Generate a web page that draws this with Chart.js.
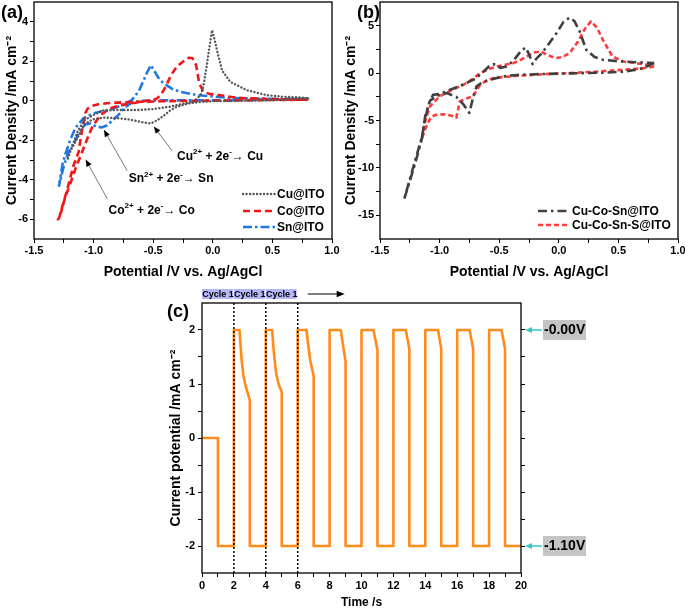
<!DOCTYPE html>
<html>
<head>
<meta charset="utf-8">
<script src="https://cdn.jsdelivr.net/npm/chart.js@4.4.0/dist/chart.umd.min.js"></script>
<style>
html, body { margin: 0; padding: 0; background: #fff; overflow: hidden; width: 685px; height: 608px; }
canvas { position: absolute; }
#chartA { left: 0; top: 0; }
#chartB { left: 340px; top: 0; }
#chartC { left: 150px; top: 280px; }
</style>
</head>
<body>
<canvas id="chartA" width="350" height="284"></canvas>
<canvas id="chartB" width="355" height="284"></canvas>
<canvas id="chartC" width="535" height="330"></canvas>
<script>
// ---- panel (a): single-metal CVs (forward scan to -1.3 V, then back) ----
var cuPot = [0.8, 0.6, 0.4, 0.2, 0.0, -0.1, -0.2, -0.3, -0.36, -0.42, -0.47, -0.52, -0.58, -0.7, -0.8, -0.92, -1.01, -1.08, -1.14, -1.2, -1.22,
             -1.18, -1.13, -1.08, -1.01, -0.93, -0.8, -0.63, -0.5, -0.36, -0.25, -0.16, -0.1, -0.075, -0.05, -0.033, -0.006, 0.015, 0.036, 0.078, 0.148, 0.288, 0.455, 0.6, 0.735, 0.8];
var cuCur = [0.12, 0.05, 0.02, 0.0, -0.02, -0.06, -0.13, -0.3, -0.5, -0.8, -1.0, -1.15, -1.1, -0.95, -0.88, -0.85, -0.95, -1.2, -1.95, -2.6, -3.0,
             -2.3, -1.5, -1.0, -0.75, -0.5, -0.47, -0.47, -0.42, -0.3, -0.15, -0.05, 0.3, 0.87, 1.8, 2.53, 3.57, 3.1, 2.53, 1.53, 0.95, 0.53, 0.28, 0.2, 0.17, 0.12];

var coPot = [0.8, 0.5, 0.2, -0.1, -0.4, -0.6, -0.77, -0.89, -0.96, -1.01, -1.05, -1.07, -1.08, -1.1, -1.126, -1.17, -1.22, -1.26, -1.29, -1.3,
             -1.27, -1.24, -1.195, -1.15, -1.11, -1.056, -1.01, -0.94, -0.86, -0.77, -0.65, -0.55, -0.5, -0.467, -0.43, -0.397, -0.35, -0.3, -0.24, -0.2,
             -0.17, -0.14, -0.118, -0.1, -0.076, -0.03, 0.064, 0.2, 0.4, 0.6, 0.8];
var coCur = [0.05, 0.04, 0.02, 0.0, -0.02, -0.05, -0.08, -0.13, -0.18, -0.25, -0.4, -0.63, -1.0, -1.6, -2.6, -3.3, -4.47, -5.3, -5.95, -6.0,
             -5.6, -4.9, -4.2, -3.4, -2.8, -1.97, -1.3, -0.72, -0.38, -0.22, -0.1, 0.0, 0.05, 0.12, 0.35, 0.7, 1.3, 1.75, 2.03, 2.18,
             2.15, 1.8, 1.03, 0.7, 0.45, 0.35, 0.28, 0.15, 0.1, 0.07, 0.05];

var snPot = [0.8, 0.5, 0.2, -0.1, -0.4, -0.6, -0.68, -0.74, -0.79, -0.84, -0.89, -0.93, -0.98, -1.03, -1.07, -1.12, -1.17, -1.21, -1.25, -1.29,
             -1.26, -1.237, -1.195, -1.153, -1.084, -1.0, -0.9, -0.83, -0.75, -0.68, -0.62, -0.58, -0.55, -0.52, -0.49, -0.45, -0.41, -0.34, -0.27, -0.13, 0.15, 0.5, 0.8];
var snCur = [0.08, 0.05, 0.03, 0.02, 0.02, 0.0, -0.1, -0.35, -0.7, -1.0, -1.25, -1.35, -1.3, -1.15, -1.2, -1.6, -2.2, -2.6, -3.3, -4.3,
             -3.2, -2.7, -1.97, -1.38, -0.88, -0.63, -0.5, -0.38, -0.2, 0.03, 0.5, 1.03, 1.45, 1.8, 1.5, 1.1, 0.87, 0.6, 0.45, 0.28, 0.14, 0.1, 0.1];

// ---- panel (b): alloy CVs ----
var ccsPot = [0.8, 0.7, 0.566, 0.4, 0.2, 0.0, -0.2, -0.35, -0.44, -0.5, -0.58, -0.64, -0.69, -0.72, -0.75, -0.8, -0.86, -0.94, -1.02, -1.08, -1.12, -1.15, -1.2, -1.25, -1.3,
              -1.25, -1.2, -1.15, -1.12, -1.09, -1.055, -1.0, -0.9, -0.8, -0.7, -0.62, -0.57, -0.53, -0.49, -0.44, -0.38, -0.32, -0.28, -0.25, -0.22,
              -0.19, -0.15, -0.1, -0.02, 0.04, 0.09, 0.13, 0.175, 0.23, 0.3, 0.37, 0.5, 0.65, 0.8];
var ccsCur = [1.05, 0.5, 0.17, 0.05, 0.0, -0.05, -0.12, -0.2, -0.3, -0.45, -0.7, -0.95, -1.4, -2.6, -4.2, -3.3, -2.5, -2.1, -2.4, -2.9, -4.5, -7.0, -9.3, -11.4, -13.4,
              -11.2, -9.0, -6.8, -4.8, -3.2, -2.3, -2.2, -1.7, -1.2, -0.6, 0.3, 0.9, 0.95, 0.55, 0.7, 1.3, 2.3, 2.7, 2.0, 0.95,
              1.5, 2.0, 2.8, 4.2, 5.4, 5.85, 5.5, 4.4, 2.46, 1.7, 1.4, 1.25, 1.15, 1.05];

var ccssPot = [0.8, 0.7, 0.54, 0.3, 0.1, -0.1, -0.3, -0.45, -0.55, -0.62, -0.66, -0.72, -0.78, -0.83, -0.86, -0.9, -0.96, -1.03, -1.07, -1.1, -1.13, -1.15,
               -1.12, -1.08, -1.0, -0.9, -0.8, -0.72, -0.66, -0.58, -0.52, -0.44, -0.38, -0.32, -0.27, -0.2, -0.15,
               -0.1, -0.03, 0.03, 0.09, 0.16, 0.22, 0.27, 0.32, 0.37, 0.45, 0.54, 0.7, 0.8];
var ccssCur = [0.7, 0.5, 0.35, 0.15, 0.0, -0.1, -0.25, -0.4, -0.53, -0.9, -1.23, -2.46, -2.7, -3.0, -4.7, -4.5, -4.35, -4.4, -4.6, -5.3, -6.2, -7.0,
               -5.0, -3.5, -2.46, -1.8, -1.23, -0.6, 0.0, 0.45, 0.7, 0.9, 1.05, 1.4, 1.76, 2.2, 2.28,
               1.93, 1.58, 1.7, 2.1, 3.3, 4.7, 5.45, 4.8, 3.5, 1.76, 1.23, 0.95, 0.7];

// ---- panel (c): pulse current vs time ----
var timeS = [0, 1, 1, 2,
             2, 2.35, 2.42, 2.5, 2.6, 2.72, 2.85, 3, 3, 4,
             4, 4.4, 4.47, 4.55, 4.65, 4.8, 5, 5, 6,
             6, 6.55, 6.65, 6.78, 6.9, 7, 7, 8,
             8, 8.7, 8.85, 9, 9, 10,
             10, 10.75, 11, 11, 12,
             12, 12.78, 13, 13, 14,
             14, 14.8, 15, 15, 16,
             16, 16.78, 17, 17, 18,
             18, 18.78, 19, 19, 20];
var currentC = [0, 0, -2, -2,
                2, 2, 1.7, 1.4, 1.15, 0.98, 0.85, 0.7, -2, -2,
                2, 2, 1.7, 1.45, 1.2, 1.0, 0.85, -2, -2,
                2, 2, 1.75, 1.45, 1.28, 1.15, -2, -2,
                2, 2, 1.7, 1.42, -2, -2,
                2, 2, 1.63, -2, -2,
                2, 2, 1.65, -2, -2,
                2, 2, 1.65, -2, -2,
                2, 2, 1.65, -2, -2,
                2, 2, 1.65, -2, -2];
var cycleMarks = [2, 4, 6];
var cycleLabels = ['Cycle 1', 'Cycle 1', 'Cycle 1'];
var levelValues = [2, -2];
var levelLabels = ['-0.00V', '-1.10V'];

// ---- ticks ----
var potMajor = [-1.5, -1.0, -0.5, 0.0, 0.5, 1.0];
var potMinor = [-1.25, -0.75, -0.25, 0.25, 0.75];
var curMajorA = [-6, -4, -2, 0, 2, 4];
var curMinorA = [-5, -3, -1, 1, 3];
var curMajorB = [-15, -10, -5, 0, 5];
var curMinorB = [-12.5, -7.5, -2.5, 2.5];
var timeMajor = [0, 2, 4, 6, 8, 10, 12, 14, 16, 18, 20];
var timeMinor = [1, 3, 5, 7, 9, 11, 13, 15, 17, 19];
var curMajorC = [-2, -1, 0, 1, 2];
var curMinorC = [-1.5, -0.5, 0.5, 1.5];

var FONT = '"Liberation Sans", Arial, Helvetica, sans-serif';
Chart.defaults.font.family = FONT;
Chart.defaults.color = '#000';

function pairs(xs, ys) {
    var out = [];
    for (var i = 0; i < xs.length; i++) {
        out.push({x: xs[i], y: ys[i]});
    }
    return out;
}

function series(label, xs, ys, color, dash, width, cap) {
    return {
        label: label,
        data: pairs(xs, ys),
        showLine: true,
        borderColor: color,
        backgroundColor: color,
        borderWidth: width,
        borderDash: dash,
        borderCapStyle: cap,
        borderJoinStyle: 'round',
        pointRadius: 0,
        tension: 0
    };
}

function axis(pos, min, max, major, minor, digits, title, titleSize, tickSize, fit, titlePad, tickPad) {
    var all = major.concat(minor).sort(function (a, b) { return a - b; });
    var vertical = (pos === 'left' || pos === 'right');
    return {
        type: 'linear',
        position: pos,
        min: min,
        max: max,
        afterBuildTicks: function (s) {
            s.ticks = all.map(function (v) { return {value: v}; });
        },
        afterFit: function (s) {
            if (vertical) s.width = fit; else s.height = fit;
            s.paddingTop = 0; s.paddingBottom = 0; s.paddingLeft = 0; s.paddingRight = 0;
        },
        ticks: {
            display: digits !== null,
            autoSkip: false,
            maxRotation: 0,
            padding: tickPad,
            color: '#000',
            font: {size: tickSize, weight: 'bold'},
            callback: function (v) {
                return major.indexOf(v) < 0 ? '' : v.toFixed(digits);
            }
        },
        grid: {display: true, drawOnChartArea: false, drawTicks: true, tickLength: 4, color: '#000', lineWidth: 1},
        border: {display: false},
        title: {
            display: !!title,
            text: title,
            color: '#000',
            font: {size: titleSize, weight: 'bold'},
            padding: titlePad
        }
    };
}

function arrow(ctx, x1, y1, x2, y2, color, width, head) {
    var a = Math.atan2(y2 - y1, x2 - x1);
    ctx.save();
    ctx.strokeStyle = color;
    ctx.lineWidth = width;
    ctx.setLineDash([]);
    ctx.beginPath();
    ctx.moveTo(x1, y1);
    ctx.lineTo(x2 - Math.cos(a) * head * 0.8, y2 - Math.sin(a) * head * 0.8);
    ctx.stroke();
    ctx.fillStyle = '#000';
    ctx.beginPath();
    ctx.moveTo(x2, y2);
    ctx.lineTo(x2 - head * Math.cos(a) + head * 0.4 * Math.sin(a), y2 - head * Math.sin(a) - head * 0.4 * Math.cos(a));
    ctx.lineTo(x2 - head * Math.cos(a) - head * 0.4 * Math.sin(a), y2 - head * Math.sin(a) + head * 0.4 * Math.cos(a));
    ctx.closePath();
    ctx.fill();
    ctx.restore();
}

function richText(ctx, segs, x, y, size) {
    ctx.save();
    ctx.fillStyle = '#000';
    ctx.textBaseline = 'middle';
    ctx.textAlign = 'left';
    segs.forEach(function (s) {
        var sup = s[1];
        ctx.font = 'bold ' + (sup ? Math.round(size * 0.65) : size) + 'px ' + FONT;
        ctx.fillText(s[0], x, sup ? y - size * 0.38 : y);
        x += ctx.measureText(s[0]).width;
    });
    ctx.restore();
}

var frame = {
    id: 'frame',
    afterDatasetsDraw: function (chart) {
        var a = chart.chartArea, ctx = chart.ctx;
        ctx.save();
        ctx.strokeStyle = '#000';
        ctx.lineWidth = 1.3;
        ctx.setLineDash([]);
        ctx.strokeRect(a.left, a.top, a.right - a.left, a.bottom - a.top);
        ctx.restore();
    }
};

function panelTag(text, x, y) {
    return {
        id: 'tag',
        afterDraw: function (chart) {
            var ctx = chart.ctx;
            ctx.save();
            ctx.fillStyle = '#000';
            ctx.font = 'bold 18px ' + FONT;
            ctx.textBaseline = 'middle';
            ctx.fillText(text, x, y);
            ctx.restore();
        }
    };
}

function legendBox(x1, x2, rows) {
    return {
        id: 'legendBox',
        afterDraw: function (chart) {
            var ctx = chart.ctx;
            chart.data.datasets.forEach(function (ds, i) {
                ctx.save();
                ctx.strokeStyle = ds.borderColor;
                ctx.lineWidth = ds.borderWidth;
                ctx.lineCap = ds.borderCapStyle;
                ctx.setLineDash(ds.borderDash);
                ctx.beginPath();
                ctx.moveTo(x1, rows[i]);
                ctx.lineTo(x2, rows[i]);
                ctx.stroke();
                ctx.fillStyle = '#000';
                ctx.font = 'bold 12px ' + FONT;
                ctx.textBaseline = 'middle';
                ctx.fillText(ds.label, x2 + 2, rows[i] + 0.5);
                ctx.restore();
            });
        }
    };
}

var reactionNotes = [
    {text: [['Cu'], ['2+', 1], [' + 2e'], ['-', 1], ['\u2192 Cu']], at: [-0.30, -2.82], from: [-0.34, -2.55], to: [-0.495, -1.3]},
    {text: [['Sn'], ['2+', 1], [' + 2e'], ['-', 1], ['\u2192 Sn']], at: [-0.706, -3.97], from: [-0.718, -3.55], to: [-0.914, -1.47]},
    {text: [['Co'], ['2+', 1], [' + 2e'], ['-', 1], ['\u2192 Co']], at: [-0.874, -5.57], from: [-0.885, -4.97], to: [-1.067, -2.97]}
];

var notesA = {
    id: 'notesA',
    afterDraw: function (chart) {
        var ctx = chart.ctx, xs = chart.scales.x, ys = chart.scales.y;
        reactionNotes.forEach(function (n) {
            arrow(ctx, xs.getPixelForValue(n.from[0]), ys.getPixelForValue(n.from[1]),
                  xs.getPixelForValue(n.to[0]), ys.getPixelForValue(n.to[1]), '#555', 0.8, 7);
            richText(ctx, n.text, xs.getPixelForValue(n.at[0]), ys.getPixelForValue(n.at[1]), 12);
        });
    }
};

var cycleNotes = {
    id: 'cycleNotes',
    afterDraw: function (chart) {
        var ctx = chart.ctx, xs = chart.scales.x, ys = chart.scales.y, a = chart.chartArea;
        ctx.save();
        // dotted cycle boundaries
        ctx.strokeStyle = '#000';
        ctx.lineWidth = 1.5;
        ctx.setLineDash([2, 2]);
        cycleMarks.forEach(function (t) {
            var px = xs.getPixelForValue(t);
            ctx.beginPath();
            ctx.moveTo(px, a.top);
            ctx.lineTo(px, a.bottom);
            ctx.stroke();
        });
        ctx.setLineDash([]);
        // cycle boxes above the plot
        var edges = [0].concat(cycleMarks);
        ctx.font = 'bold 9px ' + FONT;
        ctx.textAlign = 'center';
        ctx.textBaseline = 'middle';
        for (var i = 0; i < cycleLabels.length; i++) {
            var l = xs.getPixelForValue(edges[i]), r = xs.getPixelForValue(edges[i + 1]);
            ctx.fillStyle = '#b6b6f6';
            ctx.fillRect(l, a.top - 14, r - l - 1, 10);
            ctx.fillStyle = '#000';
            ctx.fillText(cycleLabels[i], (l + r) / 2, a.top - 8.5);
        }
        ctx.restore();
        var end = xs.getPixelForValue(edges[edges.length - 1]);
        arrow(ctx, end + 10, a.top - 9, end + 47, a.top - 9, '#000', 1, 8);
        // voltage levels on the right
        levelValues.forEach(function (v, i) {
            var py = ys.getPixelForValue(v);
            ctx.save();
            ctx.strokeStyle = '#33c6c6';
            ctx.fillStyle = '#33c6c6';
            ctx.lineWidth = 1.5;
            ctx.beginPath();
            ctx.moveTo(a.right + 21, py);
            ctx.lineTo(a.right + 9, py);
            ctx.stroke();
            ctx.beginPath();
            ctx.moveTo(a.right + 4, py);
            ctx.lineTo(a.right + 11, py - 3);
            ctx.lineTo(a.right + 11, py + 3);
            ctx.closePath();
            ctx.fill();
            ctx.fillStyle = '#c4c4c4';
            ctx.fillRect(a.right + 22, py - 10, 43, 20);
            ctx.fillStyle = '#000';
            ctx.font = 'bold 14px ' + FONT;
            ctx.textBaseline = 'middle';
            ctx.fillText(levelLabels[i], a.right + 23, py + 0.5);
            ctx.restore();
        });
    }
};

var common = {
    responsive: false,
    animation: false,
    devicePixelRatio: 1,
    plugins: {legend: {display: false}, tooltip: {enabled: false}}
};

new Chart(document.getElementById('chartA'), {
    type: 'scatter',
    data: {
        datasets: [
            series('Cu@ITO', cuPot, cuCur, '#575757', [0.1, 3.4], 2.4, 'round'),
            series('Co@ITO', coPot, coCur, '#f21616', [7, 4], 2.6, 'butt'),
            series('Sn@ITO', snPot, snCur, '#1f78e8', [9, 3, 2.5, 3], 2.6, 'butt')
        ]
    },
    options: Object.assign({}, common, {
        layout: {padding: {left: 0, top: 2, right: 18, bottom: 0}},
        scales: {
            x: axis('bottom', -1.5, 1.0, potMajor, potMinor, 1, 'Potential /V vs. Ag/AgCl', 14, 11, 45, {top: 0, bottom: 3}, 1),
            y: axis('left', -7, 5, curMajorA, curMinorA, 0, 'Current Density /mA cm\u207B\u00B2', 14, 11, 34, {top: 4, bottom: 0}, 2)
        }
    }),
    plugins: [frame, notesA, legendBox(243, 275, [194, 211, 227]), panelTag('(a)', 1, 13)]
});

new Chart(document.getElementById('chartB'), {
    type: 'scatter',
    data: {
        datasets: [
            series('Cu-Co-Sn@ITO', ccsPot, ccsCur, '#404040', [9, 4, 2.5, 4], 2.6, 'butt'),
            series('Cu-Co-Sn-S@ITO', ccssPot, ccssCur, '#ff3c3c', [5, 3], 2.6, 'butt')
        ]
    },
    options: Object.assign({}, common, {
        layout: {padding: {left: 0, top: 2, right: 17, bottom: 0}},
        scales: {
            x: axis('bottom', -1.5, 1.0, potMajor, potMinor, 1, 'Potential /V vs. Ag/AgCl', 14, 11, 45, {top: 0, bottom: 3}, 1),
            y: axis('left', -17.5, 7.5, curMajorB, curMinorB, 0, 'Current Density /mA cm\u207B\u00B2', 14, 11, 40, {top: 3, bottom: 0}, 2)
        }
    }),
    plugins: [frame, legendBox(198, 230, [211, 225]), panelTag('(b)', 17, 13)]
});

new Chart(document.getElementById('chartC'), {
    type: 'scatter',
    data: {
        datasets: [
            series('Current', timeS, currentC, '#ff8c1a', [], 2.6, 'butt')
        ]
    },
    options: Object.assign({}, common, {
        layout: {padding: {left: 16, top: 23, right: 158, bottom: 0}},
        scales: {
            x: axis('bottom', 0, 20, timeMajor, timeMinor, 0, 'Time /s', 12, 11, 37, {top: 0, bottom: 0}, 2),
            y: axis('left', -2.5, 2.5, curMajorC, curMinorC, 0, 'Current potential /mA cm\u207B\u00B2', 14, 11, 36, {top: 2, bottom: 0}, 3),
            y2: axis('right', -2.5, 2.5, curMajorC, curMinorC, null, '', 12, 11, 6, 0, 0)
        }
    }),
    plugins: [frame, cycleNotes, panelTag('(c)', 17, 32)]
});
</script>
</body>
</html>
